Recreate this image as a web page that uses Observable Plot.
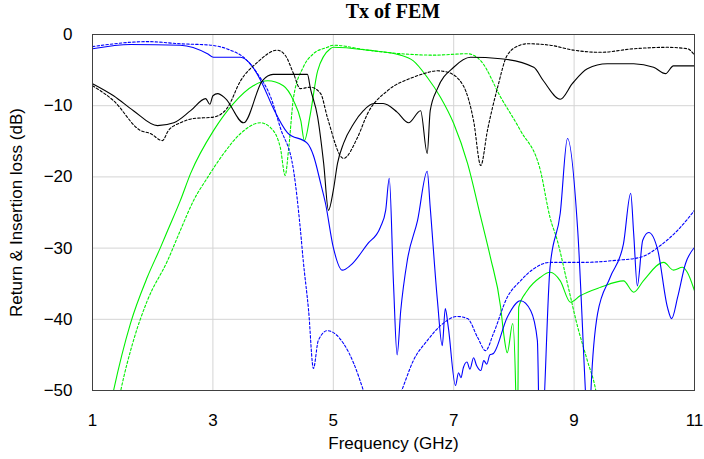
<!DOCTYPE html>
<html><head><meta charset="utf-8">
<script src="https://cdn.jsdelivr.net/npm/d3@7"></script>
<script src="https://cdn.jsdelivr.net/npm/@observablehq/plot@0.6"></script>
<style>
body{margin:0;background:#fff;}
#title{width:602px;margin-left:92px;height:20px;line-height:28px;overflow:visible;text-align:center;font:bold 20px "Liberation Serif","Times New Roman",serif;color:#000;position:relative;z-index:1;}
</style></head>
<body>
<div id="title">Tx of FEM</div>
<div id="chart"></div>
<script>
const xTicks = [1, 3, 5, 7, 9, 11];
const yTicks = [0, -10, -20, -30, -40, -50];

const blackSolidF = [1.0,1.35,1.68,2.08,2.35,2.63,2.88,2.95,3.0,3.08,3.21,3.51,3.82,4.0,4.57,4.62,4.74,4.84,4.92,5.0,5.07,5.17,5.34,5.5,5.67,5.83,6.06,6.25,6.45,6.56,6.61,6.73,7.0,7.28,7.78,8.33,8.49,8.77,8.97,9.22,9.55,9.99,10.32,10.52,10.65,11.0];
const blackSolidDb = [-6.9,-8.6,-10.7,-12.8,-12.4,-10.7,-9.0,-9.8,-8.6,-8.3,-9.0,-12.4,-6.5,-5.6,-5.6,-7.6,-11.6,-18.1,-24.7,-21.9,-18.1,-15.3,-12.5,-10.7,-9.7,-9.7,-10.9,-12.4,-10.7,-16.7,-10.7,-7.6,-4.6,-3.2,-3.4,-4.6,-6.5,-9.1,-6.9,-4.8,-4.1,-4.1,-4.6,-5.5,-4.4,-4.4];

const blackDotF = [1.0,1.35,1.8,1.96,2.16,2.26,2.46,2.68,3.01,3.24,3.46,3.74,4.07,4.2,4.34,4.45,4.62,4.79,4.9,5.17,5.4,5.57,5.9,6.33,6.5,6.73,6.9,7.16,7.33,7.45,7.56,7.73,7.89,8.1,8.22,8.6,8.99,9.44,9.99,10.55,10.88,11.0];
const blackDotDb = [-7.2,-9.3,-13.5,-13.9,-14.9,-13.5,-12.4,-11.8,-11.6,-10.3,-6.5,-3.9,-2.2,-2.9,-5.5,-7.6,-7.4,-8.3,-11.6,-17.4,-14.5,-11.1,-7.9,-6.0,-5.5,-5.1,-5.3,-7.2,-12.1,-18.4,-13.5,-7.4,-2.9,-1.5,-1.3,-1.5,-2.2,-2.5,-2.0,-1.8,-2.0,-2.9];

const blueSolidF = [1.0,1.63,2.46,2.91,3.01,3.46,3.62,3.82,4.0,4.24,4.57,4.67,4.79,4.87,5.0,5.15,5.29,5.57,5.78,5.87,5.93,6.0,6.06,6.12,6.23,6.4,6.56,6.61,6.73,6.81,6.86,6.91,7.03,7.08,7.12,7.16,7.22,7.27,7.33,7.38,7.45,7.5,7.55,7.6,7.66,7.89,8.11,8.28,8.39,8.43,8.45,8.6,8.77,8.89,9.06,9.2,9.24,9.26,9.28,9.39,9.6,9.82,9.94,9.99,10.05,10.14,10.24,10.39,10.55,10.62,10.72,10.85,11.0];
const blueSolidDb = [-2.0,-1.4,-1.5,-2.7,-3.2,-3.2,-4.1,-6.9,-10.3,-13.8,-15.3,-17.0,-20.9,-23.7,-29.9,-33.1,-32.4,-29.4,-27.1,-24.7,-20.2,-35,-45,-38.8,-31.7,-26.1,-19.2,-24.3,-37.4,-43.7,-38.5,-41.1,-49.3,-47.5,-48.2,-46.8,-46.0,-47.0,-45.4,-46.5,-47.2,-45.8,-46.3,-45.0,-44.8,-39.7,-37.4,-38.8,-43.0,-58,-58,-32.7,-25.1,-14.6,-27.5,-52,-58,-58,-50,-39.2,-34.1,-29.4,-22.3,-28.0,-35.3,-28.9,-27.8,-30.3,-38.3,-39.9,-36.9,-32.2,-29.9];

const blueDotF = [1.0,1.91,2.46,2.96,3.29,3.51,3.74,3.96,4.12,4.34,4.45,4.5,4.59,4.67,4.75,4.9,5.17,5.34,5.5,5.65,5.95,6.15,6.33,6.56,6.78,7.06,7.23,7.4,7.53,7.66,7.89,8.11,8.33,8.6,9.16,9.72,10.1,10.44,10.72,11.0];
const blueDotDb = [-1.7,-1.0,-1.3,-1.5,-2.2,-3.2,-5.5,-8.8,-13.1,-19.1,-27.1,-31.7,-38.8,-46.9,-43.0,-41.6,-43.4,-46.2,-50,-54,-54,-49.7,-45.8,-43.0,-40.9,-39.6,-39.9,-42.6,-44.4,-42.0,-36.9,-34.6,-32.9,-32.0,-32.0,-31.7,-31.3,-29.6,-27.5,-24.7];

const greenSolidF = [1.3,1.35,1.63,1.91,2.13,2.25,2.46,2.63,3.01,3.34,3.67,3.91,4.17,4.34,4.46,4.52,4.62,4.74,4.95,5.0,5.57,6.12,6.33,6.56,6.78,7.0,7.23,7.45,7.61,7.78,7.83,7.89,7.98,8.03,8.04,8.06,8.08,8.22,8.44,8.6,8.77,8.94,9.1,9.44,9.82,9.99,10.15,10.49,10.65,10.8,10.88,11.0];
const greenSolidDb = [-52,-50,-40.6,-34.1,-29.9,-27.5,-23.3,-19.5,-13.5,-9.7,-7.2,-6.5,-7.2,-9.3,-12.1,-14.9,-11.1,-5.1,-2.0,-1.8,-2.2,-2.9,-3.7,-6.0,-8.8,-12.5,-18.1,-25.7,-31.3,-38.3,-42.0,-44.7,-40.6,-50,-56,-56,-38.3,-36.0,-34.1,-33.4,-34.6,-37.6,-36.7,-35.5,-34.6,-36.2,-34.6,-32.0,-33.1,-32.7,-33.4,-36.0];

const greenDotF = [1.4,1.47,1.68,1.91,2.25,2.46,2.68,2.91,3.18,3.46,3.79,3.96,4.12,4.2,4.26,4.34,4.5,4.67,4.9,5.0,5.57,6.12,6.67,7.23,7.45,7.78,8.11,8.44,8.6,8.72,8.89,9.06,9.22,9.36,9.4];
const greenDotDb = [-53,-50,-43.0,-37.4,-31.7,-27.5,-23.3,-20.1,-16.7,-13.9,-12.4,-13.1,-15.9,-19.8,-15.9,-8.8,-4.6,-2.7,-1.8,-1.5,-2.2,-2.7,-2.9,-2.7,-3.7,-8.8,-13.5,-19.1,-25.7,-28.9,-35.0,-41.1,-45.8,-50,-52];

const series = [
  {f: greenDotF, db: greenDotDb, color: "#00f000", dash: "2.5,2"},
  {f: greenSolidF, db: greenSolidDb, color: "#00f000", dash: null},
  {f: blueDotF, db: blueDotDb, color: "#0000ff", dash: "2.5,2"},
  {f: blueSolidF, db: blueSolidDb, color: "#0000ff", dash: null},
  {f: blackDotF, db: blackDotDb, color: "#000000", dash: "2.5,2"},
  {f: blackSolidF, db: blackSolidDb, color: "#000000", dash: null}
];

const lineMarks = series.map(s => Plot.line(s.f.map((f, i) => ({f, db: s.db[i]})), {
  x: "f", y: "db", stroke: s.color, strokeWidth: 1.1, strokeDasharray: s.dash, curve: "monotone-x", clip: true
}));

const chart = Plot.plot({
  width: 704, height: 439,
  marginLeft: 92, marginRight: 10, marginTop: 14, marginBottom: 69,
  style: {fontFamily: "Arial, 'Liberation Sans', sans-serif", fontSize: "17px", color: "#000", background: "transparent"},
  x: {domain: [1, 11]},
  y: {domain: [-50, 0]},
  marks: [
    Plot.ruleX([3, 5, 7, 9], {stroke: "#d4d4d4", strokeWidth: 1}),
    Plot.ruleY([-10, -20, -30, -40], {stroke: "#d4d4d4", strokeWidth: 1}),
    ...lineMarks,
    Plot.frame({stroke: "#404040", strokeWidth: 1}),
    Plot.axisX({ticks: xTicks, tickSize: 0, tickPadding: 23, label: null, fontSize: 17}),
    Plot.axisY({ticks: yTicks, tickSize: 0, tickPadding: 20, label: null, fontSize: 17}),
    Plot.text(["Frequency (GHz)"], {frameAnchor: "bottom", dy: 53, lineAnchor: "middle", text: d => d, fontSize: 17}),
    Plot.text(["Return & Insertion loss (dB)"], {frameAnchor: "left", dx: -76, rotate: -90, textAnchor: "middle", text: d => d, fontSize: 17})
  ]
});
document.getElementById("chart").appendChild(chart);
</script>
</body></html>
